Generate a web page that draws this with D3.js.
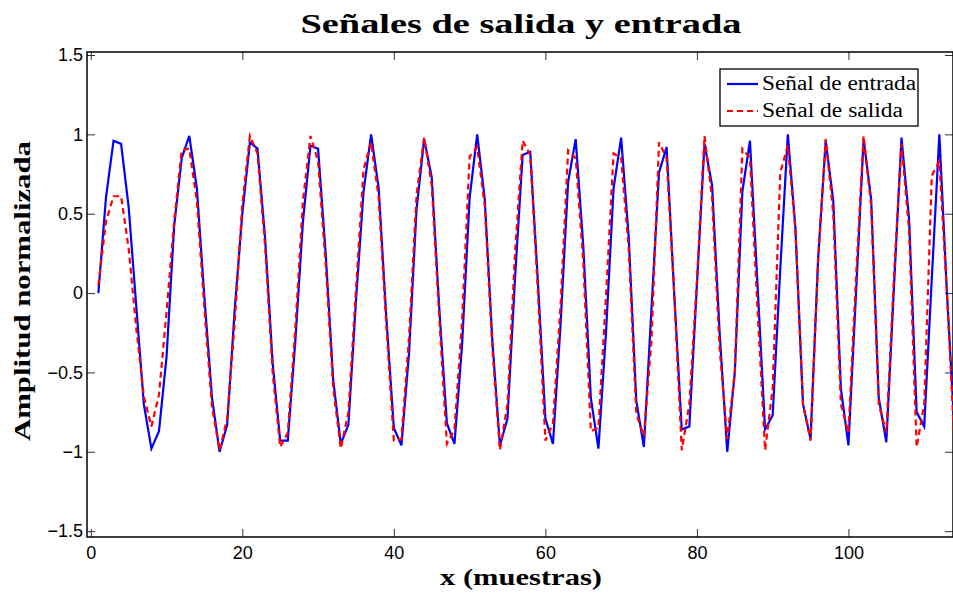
<!DOCTYPE html>
<html>
<head>
<meta charset="utf-8">
<script src="https://cdn.jsdelivr.net/npm/d3@7"></script>
<style>
  body { margin: 0; background: #fff; }
  .tick-label { font-family: "Liberation Sans", Arial, sans-serif; font-size: 18px; fill: #000; }
  .tex { font-family: "Liberation Serif", "Times New Roman", serif; fill: #000; }
</style>
</head>
<body>
<div class="chart"></div>
<script>
// sample index (x axis)
var samples = d3.range(1, 115);

// input signal (blue, solid)
var entrada = [
  0, 0.60, 0.96, 0.94, 0.54, -0.08, -0.70, -0.98, -0.87, -0.40,
  0.42, 0.85, 0.99, 0.66, -0.03, -0.66, -1.00, -0.83, -0.10, 0.50,
  0.95, 0.91, 0.35, -0.44, -0.93, -0.93, -0.30, 0.45, 0.93, 0.91,
  0.25, -0.55, -0.95, -0.83, -0.05, 0.64, 1.00, 0.66, -0.15, -0.85,
  -0.96, -0.38, 0.53, 0.97, 0.73, -0.10, -0.82, -0.95, -0.33, 0.60,
  1.00, 0.59, -0.30, -0.96, -0.79, 0.10, 0.87, 0.89, 0.08, -0.79,
  -0.95, -0.20, 0.70, 0.97, 0.30, -0.66, -0.98, -0.25, 0.66, 0.98,
  0.35, -0.68, -0.97, -0.10, 0.76, 0.92, 0.00, -0.86, -0.84, 0.05,
  0.94, 0.68, -0.25, -1.00, -0.50, 0.64, 0.96, 0.05, -0.86, -0.77,
  0.15, 1.00, 0.41, -0.70, -0.92, 0.22, 0.96, 0.58, -0.60, -0.96,
  0.00, 0.97, 0.59, -0.66, -0.94, 0.03, 0.98, 0.47, -0.75, -0.84,
  0.09, 1.00, 0.00, -0.86
];

// output signal (red, dashed)
var salida = [
  0.05, 0.45, 0.61, 0.61, 0.28, -0.22, -0.65, -0.84, -0.64, -0.12,
  0.45, 0.90, 0.91, 0.58, -0.10, -0.72, -0.99, -0.79, -0.18, 0.56,
  0.99, 0.88, 0.30, -0.50, -0.97, -0.88, -0.22, 0.58, 0.99, 0.83,
  0.18, -0.60, -0.98, -0.75, 0.02, 0.78, 0.95, 0.60, -0.20, -0.93,
  -0.92, -0.28, 0.62, 0.98, 0.68, -0.16, -0.95, -0.86, -0.18, 0.86,
  0.92, 0.55, -0.35, -0.99, -0.70, 0.26, 0.96, 0.87, 0.02, -0.93,
  -0.82, -0.08, 0.90, 0.85, 0.20, -0.87, -0.85, -0.02, 0.88, 0.85,
  0.28, -0.76, -0.90, -0.30, 0.95, 0.85, 0.00, -0.99, -0.70, 0.08,
  0.99, 0.60, -0.35, -0.92, -0.50, 0.91, 0.85, -0.10, -0.99, -0.60,
  0.76, 0.93, 0.40, -0.70, -0.93, 0.20, 0.97, 0.50, -0.70, -0.88,
  0.10, 0.99, 0.55, -0.70, -0.88, 0.10, 0.94, 0.40, -0.97, -0.70,
  0.74, 0.83, 0.00, -0.96
];

var xTicks = [0, 20, 40, 60, 80, 100];
var yTicks = [-1.5, -1, -0.5, 0, 0.5, 1, 1.5];
var seriesNames = ["Señal de entrada", "Señal de salida"];

var svgWidth = 953, svgHeight = 594;
var box = { left: 87, right: 953, top: 52, bottom: 537 };

var svg = d3.select(".chart")
  .append("svg")
  .attr("width", svgWidth)
  .attr("height", svgHeight);

// scales
var xScale = d3.scaleLinear()
  .domain([-0.5, 113.8])
  .range([box.left, box.right]);

var yScale = d3.scaleLinear()
  .domain([-1.537, 1.519])
  .range([box.bottom, box.top]);

// clip for the data lines
svg.append("clipPath")
  .attr("id", "plotClip")
  .append("rect")
  .attr("x", box.left)
  .attr("y", box.top)
  .attr("width", box.right - box.left)
  .attr("height", box.bottom - box.top);

// axes (MATLAB style: ticks inside, on all four sides)
var tickLen = 8;
var fmt = function(d) { return String(d).replace("-", "\u2212"); };

svg.append("g")
  .attr("transform", `translate(0, ${box.bottom})`)
  .call(d3.axisBottom(xScale).tickValues(xTicks).tickSize(-tickLen).tickPadding(9).tickFormat(fmt))
  .call(g => g.select(".domain").remove())
  .call(g => g.selectAll("text").attr("class", "tick-label").attr("dy", "0.71em"));

svg.append("g")
  .attr("transform", `translate(0, ${box.top})`)
  .call(d3.axisTop(xScale).tickValues(xTicks).tickSize(-tickLen).tickFormat(""))
  .call(g => g.select(".domain").remove());

svg.append("g")
  .attr("transform", `translate(${box.left}, 0)`)
  .call(d3.axisLeft(yScale).tickValues(yTicks).tickSize(-tickLen).tickPadding(4).tickFormat(fmt))
  .call(g => g.select(".domain").remove())
  .call(g => g.selectAll("text").attr("class", "tick-label"));

svg.append("g")
  .attr("transform", `translate(${box.right}, 0)`)
  .call(d3.axisRight(yScale).tickValues(yTicks).tickSize(-tickLen).tickFormat(""))
  .call(g => g.select(".domain").remove());

svg.selectAll(".tick line").attr("stroke", "#333").attr("stroke-width", 1);

// box
svg.append("rect")
  .attr("x", box.left)
  .attr("y", box.top)
  .attr("width", box.right - box.left)
  .attr("height", box.bottom - box.top)
  .attr("fill", "none")
  .attr("stroke", "#000")
  .attr("stroke-width", 1.5);

// line generator
var line = d3.line()
  .x((d, i) => xScale(samples[i]))
  .y(d => yScale(d));

var plotGroup = svg.append("g").attr("clip-path", "url(#plotClip)");

plotGroup.append("path")
  .datum(entrada)
  .attr("d", line)
  .attr("fill", "none")
  .attr("stroke", "#0000ff")
  .attr("stroke-width", 2.2);

plotGroup.append("path")
  .datum(salida)
  .attr("d", line)
  .attr("fill", "none")
  .attr("stroke", "#ff0000")
  .attr("stroke-width", 2.2)
  .attr("stroke-dasharray", "6,4");

// title and axis labels
svg.append("text")
  .attr("class", "tex")
  .attr("x", 521)
  .attr("y", 33)
  .attr("text-anchor", "middle")
  .attr("font-size", 28)
  .attr("font-weight", "bold")
  .attr("textLength", 441)
  .attr("lengthAdjust", "spacingAndGlyphs")
  .text("Señales de salida y entrada");

svg.append("text")
  .attr("class", "tex")
  .attr("x", 521)
  .attr("y", 585)
  .attr("text-anchor", "middle")
  .attr("font-size", 23)
  .attr("font-weight", "bold")
  .attr("textLength", 162)
  .attr("lengthAdjust", "spacingAndGlyphs")
  .text("x (muestras)");

svg.append("text")
  .attr("class", "tex")
  .attr("transform", "translate(30, 291) rotate(-90)")
  .attr("text-anchor", "middle")
  .attr("font-size", 23)
  .attr("font-weight", "bold")
  .attr("textLength", 300)
  .attr("lengthAdjust", "spacingAndGlyphs")
  .text("Amplitud normalizada");

// legend
var legend = svg.append("g").attr("transform", "translate(720, 69)");

legend.append("rect")
  .attr("width", 198)
  .attr("height", 57)
  .attr("fill", "#fff")
  .attr("stroke", "#000")
  .attr("stroke-width", 1.3);

var legendStyles = [
  { color: "#0000ff", dash: null, width: 154 },
  { color: "#ff0000", dash: "6,4", width: 141 }
];

seriesNames.forEach(function(name, i) {
  var yRow = 15 + i * 27;
  legend.append("line")
    .attr("x1", 7).attr("x2", 38)
    .attr("y1", yRow).attr("y2", yRow)
    .attr("stroke", legendStyles[i].color)
    .attr("stroke-width", 2.2)
    .attr("stroke-dasharray", legendStyles[i].dash);
  legend.append("text")
    .attr("class", "tex")
    .attr("x", 42)
    .attr("y", yRow + 6)
    .attr("font-size", 20)
    .attr("textLength", legendStyles[i].width)
    .attr("lengthAdjust", "spacingAndGlyphs")
    .text(name);
});
</script>
</body>
</html>
